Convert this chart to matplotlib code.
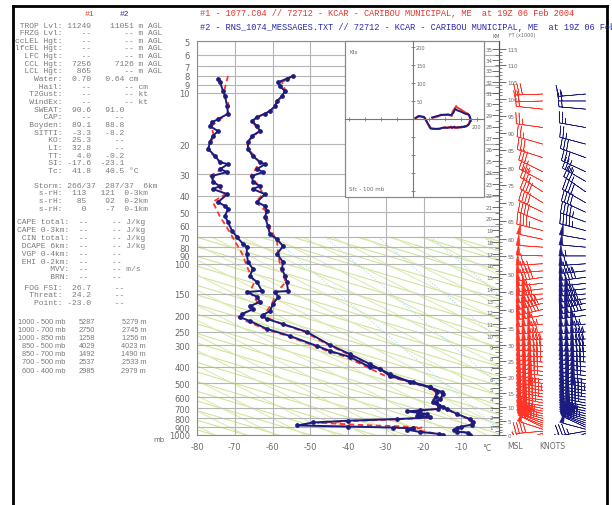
import numpy as np
import matplotlib.pyplot as plt
from matplotlib.patches import Rectangle
from matplotlib.lines import Line2D
from matplotlib.transforms import blended_transform_factory

W, H = 612, 506

# ---- sounding #1 (red, dashed) and #2 (blue, dotted line) ----
t1_p = [8.0, 8.7, 9.8, 11.2, 12.8, 13.9, 14.7, 16.8, 19.5, 21.4, 25.5, 28.0, 30.7, 35.2, 39.2,
        43.6, 49.2, 60.2, 73.7, 87.7, 107, 128, 146, 172, 202, 225, 250, 298, 337, 385,
        441, 491, 525, 576, 617, 642, 687, 705, 754, 807, 840, 870, 905, 935, 970, 1000]
t1_x = [-54.6, -57.5, -56.5, -58.5, -60.5, -64.0, -65.5, -63.5, -66.8, -66.3, -63.5, -64.5, -65.8, -63.6, -62.5,
        -64.5, -61.8, -61.0, -58.8, -58.5, -57.8, -56.5, -58.8, -60.2, -62.5, -57.5, -51.5, -45.2, -40.0, -34.6,
        -29.3, -23.8, -18.8, -15.0, -15.3, -17.0, -15.0, -14.0, -11.5, -8.0, -7.2, -7.5, -11.0, -11.5, -8.5, -8.0]
d1_p = [8.0, 9.8, 12.0, 13.3, 15.7, 17.9, 21.4, 25.5, 28.0, 30.7, 35.2, 39.2, 43.6, 52.6, 64.4,
        76.7, 87.7, 107, 128, 146, 167, 184, 205, 216, 240, 264, 302, 323, 350, 401,
        453, 491, 525, 560, 600, 640, 680, 705, 725, 745, 775, 790, 807, 828, 848,
        875, 890, 905, 930, 960, 1000]
d1_x = [-71.8, -72.8, -71.5, -72.0, -76.2, -75.5, -77.2, -74.0, -73.5, -76.5, -74.5, -72.5, -75.8, -74.0, -71.5,
        -69.5, -68.0, -66.5, -64.8, -66.0, -64.0, -66.0, -69.0, -67.0, -62.0, -56.0, -48.8, -45.5, -40.5, -35.0,
        -30.0, -23.5, -18.8, -16.8, -17.0, -17.8, -16.0, -16.8, -22.5, -20.5, -21.0, -18.0, -25.0, -38.0, -48.0,
        -36.0, -26.0, -20.5, -23.0, -19.0, -14.3]

t2_p = [8.0, 8.3, 8.7, 9.2, 9.8, 10.5, 11.2, 12.0, 12.8, 13.3, 13.9, 14.7, 15.7, 16.8, 17.9,
        19.5, 21.4, 23.5, 25.5, 26.2, 28.0, 29.1, 30.7, 33.3, 35.2, 36.6, 39.2, 43.6, 46.0, 49.2,
        53.3, 60.2, 67.0, 72.0, 78.8, 87.7, 97.7, 107, 118, 128, 144, 146, 156, 172, 189,
        199, 202, 210, 225, 250, 298, 337, 385, 441, 491, 525, 560, 576, 617, 642,
        687, 705, 754, 807, 840, 870, 895, 910, 935, 955, 970, 1000]
t2_x = [-54.6, -56.2, -58.5, -58.0, -56.7, -57.5, -58.8, -59.3, -60.7, -62.0, -64.1, -65.4, -64.1, -63.3, -65.4,
        -66.5, -66.5, -65.2, -63.3, -62.0, -64.1, -62.5, -65.4, -65.2, -63.3, -65.2, -62.0, -64.1, -62.0, -61.5,
        -62.0, -61.2, -60.7, -58.8, -57.2, -58.8, -57.2, -57.5, -56.7, -56.2, -55.9, -59.3, -58.5, -59.9, -60.7,
        -62.5, -62.8, -61.5, -57.2, -50.9, -44.8, -39.5, -34.2, -28.9, -23.6, -18.3, -15.2, -14.8, -15.6, -16.8,
        -14.8, -13.8, -11.1, -7.7, -6.9, -7.2, -10.0, -11.2, -11.8, -11.0, -8.3, -7.8]
d2_p = [8.3, 8.7, 9.8, 10.5, 12.0, 13.3, 14.3, 14.9, 15.7, 16.8, 17.9, 19.5, 21.4, 23.5, 25.5,
        26.2, 28.0, 29.1, 30.7, 33.3, 35.2, 36.6, 39.2, 43.6, 46.0, 47.9, 52.6, 57.0, 64.4, 69.8,
        76.7, 79.8, 87.7, 97.7, 107, 118, 128, 144, 146, 156, 167, 177, 184, 197, 205,
        216, 240, 264, 302, 323, 350, 401, 410, 453, 491, 525, 560, 600, 640,
        680, 705, 718, 728, 740, 755, 775, 790, 807, 825, 845, 880, 892, 905, 915, 930, 960, 985, 1000]
d2_x = [-74.4, -73.9, -73.1, -72.6, -72.0, -71.8, -74.4, -76.0, -76.6, -74.4, -75.8, -76.6, -77.0, -75.2, -73.9,
        -71.8, -73.9, -72.0, -76.0, -75.8, -73.9, -75.8, -72.0, -74.4, -72.6, -71.8, -72.6, -71.8, -70.7, -69.4,
        -67.8, -66.8, -66.8, -66.5, -65.2, -66.0, -64.1, -62.8, -66.8, -64.1, -63.3, -66.0, -65.2, -68.1, -68.6,
        -66.0, -61.5, -55.4, -48.2, -44.8, -39.5, -34.2, -31.5, -28.9, -22.8, -18.3, -16.5, -16.8, -17.5,
        -15.8, -16.2, -21.0, -24.4, -21.5, -19.0, -21.7, -18.3, -27.0, -40.0, -49.3, -53.5, -40.0, -28.0, -22.8, -24.4, -21.0, -16.0, -14.8]

# winds (mb, deg, kt)
wind_p = [1000, 975, 950, 925, 900, 875, 850, 825, 800, 775, 750, 725, 700, 675, 650,
          625, 600, 575, 550, 525, 500, 475, 450, 425, 400, 375, 350, 325, 300, 275,
          250, 225, 200, 185, 170, 160, 150, 140, 130, 120, 110, 100, 90, 80, 72,
          64, 57, 50, 44, 38, 33, 29, 24, 20, 16, 12.5, 11.2, 10.2]
dir1 = [255, 250, 265, 288, 296, 292, 291, 287, 286, 283, 284, 282, 282, 280, 282,
        279, 281, 279, 280, 278, 279, 277, 278, 276, 276, 274, 272, 272, 269, 267,
        265, 264, 260, 257, 255, 261, 266, 263, 264, 262, 265, 267, 272, 274, 282,
        284, 292, 296, 302, 303, 298, 296, 288, 286, 278, 276, 268, 268]
spd1 = [10, 22, 38, 50, 60, 72, 78, 90, 93, 102, 104, 112, 113, 122, 124,
        132, 133, 142, 143, 152, 153, 162, 163, 170, 170, 176, 177, 182, 178, 176,
        172, 166, 152, 142, 140, 125, 122, 110, 102, 88, 78, 62, 52, 52, 48,
        47, 42, 42, 38, 36, 33, 32, 28, 27, 24, 22, 18, 28]
dir2 = [250, 245, 260, 285, 295, 293, 290, 288, 285, 284, 283, 283, 282, 281, 281,
        280, 280, 280, 279, 279, 278, 278, 277, 277, 276, 275, 273, 271, 270, 268,
        266, 265, 262, 260, 258, 262, 265, 264, 263, 263, 264, 266, 270, 275, 280,
        285, 290, 295, 300, 305, 300, 295, 290, 285, 280, 275, 270, 265]
spd2 = [8, 20, 35, 48, 62, 70, 80, 88, 95, 100, 105, 110, 115, 120, 125,
        130, 135, 140, 145, 150, 155, 160, 165, 168, 172, 175, 178, 180, 180, 178,
        175, 165, 150, 140, 135, 128, 120, 112, 100, 90, 75, 60, 55, 50, 50,
        45, 45, 40, 40, 35, 35, 30, 30, 25, 25, 20, 20, 15]

p_ticks = [5, 6, 7, 8, 9, 10, 20, 30, 40, 50, 60, 70, 80, 90, 100, 150, 200, 250, 300,
           400, 500, 600, 700, 800, 900, 1000]
t_ticks = [-80, -70, -60, -50, -40, -30, -20, -10]

# left panel text
idx_labels = ["TROP Lvl:", "FRZG Lvl:", "ccLEL Hgt:", "lfcEL Hgt:", "LFC Hgt:", "CCL Hgt:", "LCL Hgt:",
              "Water:", "Hail:", "T2Gust:", "WindEx:", "SWEAT:", "CAP:", "Boyden:", "SITTI:",
              "KO:", "LI:", "TT:", "SI:", "Tc:"]
idx_v1 = ["11249", "--", "--", "--", "--", "7256", "865", "0.70", "--", "--", "--", "90.6", "--",
          "89.1", "-3.3", "25.3", "32.8", "4.0", "-17.6", "41.8"]
idx_v2 = ["11051", "--", "--", "--", "--", "7126", "--", "0.64", "--", "--", "--", "91.0", "--",
          "88.8", "-8.2", "--", "--", "-0.2", "-23.1", "40.5"]
idx_unit = ["m AGL"] * 7 + ["cm", "cm", "kt", "kt", "", "", "", "", "", "", "", "", "°C"]
idx_dec = [False] * 7 + [True, False, False, False] + [True] * 9

storm_labels = ["Storm:", "s-rH:", "s-rH:", "s-rH:"]
storm_v1 = ["266/37", "113", "85", "0"]
storm_v2 = ["287/37", "121", "92", "-7"]
storm_unit = ["6km", "0-3km", "0-2km", "0-1km"]

cape_labels = ["CAPE total:", "CAPE 0-3km:", "CIN total:", "DCAPE 6km:", "VGP 0-4km:", "EHI 0-2km:", "MVV:", "BRN:"]
cape_unit = ["J/kg", "J/kg", "J/kg", "J/kg", "", "", "m/s", ""]

fog_labels = ["FOG FSI:", "Threat:", "Point:"]
fog_v1 = ["26.7", "24.2", "-23.0"]

thick_labels = ["1000 - 500 mb", "1000 - 700 mb", "1000 - 850 mb", "850 - 500 mb",
                "850 - 700 mb", "700 - 500 mb", "600 - 400 mb"]
thick_v1 = [5287, 2750, 1258, 4029, 1492, 2537, 2985]
thick_v2 = [5279, 2745, 1256, 4023, 1490, 2533, 2979]

RED = '#ff3326'
BLUE = '#1c1c80'
GRAY = '#6a6a6a'
MONO = 'Liberation Mono'


def box(x0, y0, x1, y1):
    return [x0 / W, 1 - y1 / H, (x1 - x0) / W, (y1 - y0) / H]


def ptext(x, y, s, **kw):
    kw.setdefault('color', GRAY)
    kw.setdefault('va', 'center')
    fig.text(x / W, 1 - y / H, s, **kw)


def isa_p(z):
    z = np.asarray(z, float)
    return np.where(z <= 11000, 1013.25 * np.abs(1 - 2.25577e-5 * z) ** 5.25588,
           np.where(z <= 20000, 226.32 * np.exp(-(z - 11000) / 6341.62),
           np.where(z <= 32000, 54.749 * (1 + (z - 20000) / 216650.) ** (-34.1632),
                    8.6802 * (1 + 0.0028 * (z - 32000) / 228.65) ** (-12.2011))))


fig = plt.figure(figsize=(W / 100, H / 100), dpi=100)

# outer frame
fig.add_artist(Line2D([13 / W, 13 / W], [0, 1 - 7 / H], color='k', lw=2))
fig.add_artist(Line2D([13 / W, 607 / W], [1 - 7 / H, 1 - 7 / H], color='k', lw=2))
fig.add_artist(Line2D([607 / W, 607 / W], [0, 1 - 7 / H], color='k', lw=2))

# main sounding axes
ax = fig.add_axes(box(197, 42, 499, 436))
ax.set_yscale('log')
ax.set_ylim(1000, 5)
ax.set_xlim(-80, 0)
ax.set_yticks(p_ticks)
ax.set_yticklabels([str(p) for p in p_ticks])
ax.set_yticks([], minor=True)
ax.set_xticks(t_ticks)
ax.set_xticklabels([str(t) for t in t_ticks])
ax.tick_params(length=0, labelsize=6, labelcolor=GRAY, pad=5)
ax.grid(True, color='#b4b4b4', lw=0.8, zorder=1)
for s in ax.spines.values():
    s.set_color('#8c8c8c')
ax.spines['right'].set_color('#555555')

# background adiabats (straight in this frame, starting at 70 mb)
for slope, starts, col, ls in [(0.30, np.arange(-250, 0, 8.5), '#d0e59c', '-'),
                               (0.50, np.arange(-180, 0, 8.0), '#dcebb4', '-'),
                               (0.85, np.arange(-60, 0, 14.0), '#a9dcee', ':')]:
    k = slope * 3.775 / 171.2
    for x0 in starts:
        xx = np.array([x0, x0 + 300])
        ax.plot(xx, 70 * 10 ** (k * (xx - x0)), color=col, lw=0.8, ls=ls, zorder=0.5)

ax.plot(d1_x, d1_p, color=RED, lw=1.3, dashes=(3, 2), zorder=3)
ax.plot(t1_x, t1_p, color=RED, lw=1.3, dashes=(3, 2), zorder=3)
ax.plot(d2_x, d2_p, color=BLUE, lw=1.4, marker='o', ms=2.4, zorder=4)
ax.plot(t2_x, t2_p, color=BLUE, lw=1.4, marker='o', ms=2.4, zorder=4)

# height scales on the right spine
km = np.arange(0, 36)
kx = ax.twinx()
kx.set_yscale('log')
kx.set_ylim(1000, 5)
kx.set_yticks(isa_p(km * 1000.0))
kx.set_yticklabels([])
kx.set_yticks(isa_p(km[:-1] * 1000.0 + 500), minor=True)
kx.set_yticklabels([], minor=True)
kx.tick_params(axis='y', which='major', direction='in', length=5, color='#555555', width=0.6)
kx.tick_params(axis='y', which='minor', direction='in', length=3, color='#555555', width=0.5)
for s in ['left', 'top', 'bottom']:
    kx.spines[s].set_visible(False)
kx.spines['right'].set_color('#555555')
tr = blended_transform_factory(ax.transAxes, ax.transData)
for k_ in km[1:]:
    ax.text(1 - 6 / 302, isa_p(k_ * 1000.0), str(k_), transform=tr, ha='right', va='center',
            fontsize=4, color=GRAY, zorder=5)

kft = np.arange(0, 116)
fx = ax.twinx()
fx.set_yscale('log')
fx.set_ylim(1000, 5)
fx.set_yticks(isa_p(kft[::5] * 304.8))
fx.set_yticklabels([str(v) for v in kft[::5]])
fx.set_yticks(isa_p(kft * 304.8), minor=True)
fx.set_yticklabels([], minor=True)
fx.tick_params(axis='y', which='major', direction='out', length=5, color='#555555', width=0.6,
               labelsize=4, labelcolor=GRAY, pad=1)
fx.tick_params(axis='y', which='minor', direction='out', length=2.5, color='#555555', width=0.5)
for s in ['left', 'top', 'bottom', 'right']:
    fx.spines[s].set_visible(False)


# wind barbs
def uv(d, s):
    d = np.radians(d)
    s = np.asarray(s, float)
    return -s * np.sin(d), -s * np.cos(d)


u1, v1 = uv(dir1, spd1)
u2, v2 = uv(dir2, spd2)
bax = fig.add_axes(box(505, 42, 607, 436))
bax.set_yscale('log')
bax.set_ylim(1000, 5)
bax.set_xlim(0, 1)
bax.axis('off')
n = len(wind_p)
bsz = dict(spacing=0.12, height=0.42, width=0.15)
bax.barbs(np.full(n, 0.37), wind_p, u1, v1, color=RED, length=6.2, linewidth=0.45, sizes=bsz)
bax.barbs(np.full(n, 0.79), wind_p, u2, v2, color=BLUE, length=6.2, linewidth=0.45, sizes=bsz)

# hodograph inset
hax = fig.add_axes(box(345, 42, 484, 198))
hax.set_xlim(-212, 222)
hax.set_ylim(-217, 217)
hax.spines['left'].set_position(('data', 0))
hax.spines['bottom'].set_position(('data', 0))
for s in ['top', 'right']:
    hax.spines[s].set_visible(False)
for s in ['left', 'bottom']:
    hax.spines[s].set_color('#777777')
    hax.spines[s].set_linewidth(0.8)
ht = [-200, -150, -100, -50, 50, 100, 150, 200]
hax.set_xticks(ht)
hax.set_yticks(ht)
hax.set_xticklabels([])
hax.set_yticklabels([])
hax.tick_params(direction='inout', length=3, color='#777777', width=0.6)
hax.add_patch(Rectangle((0, 0), 1, 1, transform=hax.transAxes, fill=False, ec='#8a8a8a', lw=0.9, clip_on=False))
for v in [50, 100, 150, 200]:
    hax.text(10, v, str(v), fontsize=3.6, color=GRAY, va='center', ha='left')
hax.text(200, -14, '200', fontsize=3.6, color=GRAY, va='top', ha='center')
hax.text(0.03, 0.95, 'Kts', transform=hax.transAxes, fontsize=4, color=GRAY, va='top')
hax.text(0.03, 0.04, 'Sfc - 100 mb', transform=hax.transAxes, fontsize=4, color=GRAY, va='bottom')
sel = np.array(wind_p) >= 100
hax.plot(u1[sel], v1[sel], color=RED, lw=1.4)
hax.plot(u2[sel], v2[sel], color=BLUE, lw=1.4)

# headers
ptext(200, 14, "#1 - 1077.C04 // 72712 - KCAR - CARIBOU MUNICIPAL, ME  at 19Z 06 Feb 2004",
      family=MONO, fontsize=6.2, color='#e8352a')
ptext(200, 27, "#2 - RNS_1074_MESSAGES.TXT // 72712 - KCAR - CARIBOU MUNICIPAL, ME  at 19Z 06 Feb 2004",
      family=MONO, fontsize=6.2, color='#2a2ab0')
ptext(496, 36, "KM", fontsize=3.5, ha='center')
ptext(522, 36, "FT (x1000)", fontsize=3.5, ha='center')
ptext(153, 440, "mb", fontsize=5)
ptext(482, 449, "°C", fontsize=5.5)
ptext(515, 447, "MSL", fontsize=5.5, ha='center')
ptext(552, 447, "KNOTS", fontsize=5.5, ha='center')

# left panel
ptext(90, 15, "#1", family=MONO, fontsize=5.8, color='#e8352a', ha='center')
ptext(125, 15, "#2", family=MONO, fontsize=5.8, color='#2a2ab0', ha='center')
tk = dict(family=MONO, fontsize=5.8, color='#7a7a7a', ha='left')
for i, lab in enumerate(idx_labels):
    if idx_dec[i]:
        s = f"{lab:>10} {idx_v1[i]:>5}{idx_v2[i]:>7} {idx_unit[i]}"
    else:
        s = f"{lab:>10} {idx_v1[i]:>5}{idx_v2[i]:>9} {idx_unit[i]}"
    ptext(15, 26 + i * 7.65, s, **tk)
for i, lab in enumerate(storm_labels):
    if i == 0:
        s = f"{lab:>10} {storm_v1[i]:>6}  {storm_v2[i]:>6}  {storm_unit[i]}"
    else:
        s = f"{lab:>10} {storm_v1[i]:>4}{storm_v2[i]:>6}  {storm_unit[i]}"
    ptext(15, 186 + i * 7.7, s, **tk)
for i, lab in enumerate(cape_labels):
    ptext(17, 223 + i * 7.8, f"{lab:>11}{'--':>4}{'--':>7} {cape_unit[i]}", **tk)
for i, lab in enumerate(fog_labels):
    ptext(15, 288 + i * 7.8, f"{lab:>10} {fog_v1[i]:>5}{'--':>7}", **tk)
for i, lab in enumerate(thick_labels):
    y = 322 + i * 8.2
    ptext(18 if lab.startswith('1000') else 22, y, lab, fontsize=5.3, color='#7a7a7a', family='Liberation Sans')
    ptext(95, y, str(thick_v1[i]), fontsize=5.3, color='#7a7a7a', ha='right', family='Liberation Sans')
    ptext(146, y, f"{thick_v2[i]} m", fontsize=5.3, color='#7a7a7a', ha='right', family='Liberation Sans')

fig.savefig('out.png', dpi=100)
